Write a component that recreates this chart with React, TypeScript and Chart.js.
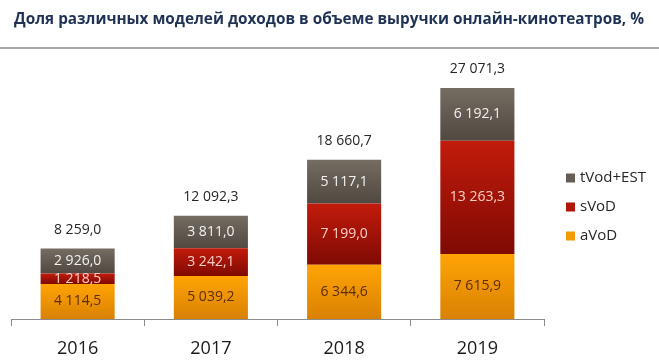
import React, { useEffect, useRef } from "react";
import { Chart, registerables } from "chart.js";

Chart.register(...registerables);

const TITLE = "Доля различных моделей доходов в объеме выручки онлайн-кинотеатров, %";
const YEARS = ["2016", "2017", "2018", "2019"];
const AVOD = [4114.5, 5039.2, 6344.6, 7615.9];
const SVOD = [1218.5, 3242.1, 7199.0, 13263.3];
const TVOD = [2926.0, 3811.0, 5117.1, 6192.1];
const TOTALS = [8259.0, 12092.3, 18660.7, 27071.3];
const SERIES_NAMES = ["aVoD", "sVoD", "tVod+EST"];

const FONT = "'Open Sans', sans-serif";

const GRADS = [
  ["#FFA404", "#D98104"],
  ["#C21B0B", "#7F0A04"],
  ["#756C62", "#504941"],
];
const LABEL_COLORS = ["#5C2E00", "#FFCFC8", "#F2F2F2"];
const LEGEND_COLORS = ["#F29A06", "#B01508", "#655D55"];

function fmt(v: number): string {
  const s = v.toFixed(1);
  const [i, d] = s.split(".");
  const withSp = i.replace(/\B(?=(\d{3})+(?!\d))/g, " ");
  return withSp + "," + d;
}

export default function App() {
  const ref = useRef<HTMLCanvasElement | null>(null);

  useEffect(() => {
    const canvas = ref.current;
    if (!canvas) return;
    const seriesData = [AVOD, SVOD, TVOD];

    const gradFor = (di: number) => (ctx: any) => {
      const chart = ctx.chart;
      const y = chart.scales && chart.scales.y;
      if (!y || !chart.chartArea || ctx.dataIndex === undefined) return GRADS[di][0];
      const idx = ctx.dataIndex;
      let start = 0;
      for (let k = 0; k < di; k++) start += seriesData[k][idx];
      const end = start + seriesData[di][idx];
      const yTop = y.getPixelForValue(end);
      const yBot = y.getPixelForValue(start);
      if (!isFinite(yTop) || !isFinite(yBot) || yTop === yBot) return GRADS[di][0];
      const g = chart.ctx.createLinearGradient(0, yTop, 0, yBot);
      g.addColorStop(0, GRADS[di][0]);
      g.addColorStop(1, GRADS[di][1]);
      return g;
    };

    const decor = {
      id: "decor",
      afterDraw(chart: any) {
        const c = chart.ctx;
        c.save();
        // title
        c.fillStyle = "#1F3255";
        c.font = `bold 15.3px ${FONT}`;
        c.textAlign = "center";
        c.textBaseline = "middle";
        c.fillText(TITLE, 329, 20);
        // rule
        c.strokeStyle = "#8A8A8A";
        c.lineWidth = 1.5;
        c.beginPath();
        c.moveTo(0, 48);
        c.lineTo(659, 48);
        c.stroke();

        // segment labels
        c.font = `14px ${FONT}`;
        for (let di = 0; di < 3; di++) {
          const meta = chart.getDatasetMeta(di);
          meta.data.forEach((bar: any, i: number) => {
            const cy = (bar.y + bar.base) / 2;
            c.fillStyle = LABEL_COLORS[di];
            c.fillText(fmt(seriesData[di][i]), bar.x, cy);
          });
        }
        // totals
        const top = chart.getDatasetMeta(2);
        c.fillStyle = "#262626";
        top.data.forEach((bar: any, i: number) => {
          c.fillText(fmt(TOTALS[i]), bar.x, bar.y - 19);
        });

        // legend
        c.font = `15px ${FONT}`;
        c.textAlign = "left";
        const order = [2, 1, 0];
        order.forEach((di, k) => {
          const ly = 178 + k * 29;
          c.fillStyle = LEGEND_COLORS[di];
          c.fillRect(566, ly - 4.5, 9, 9);
          c.fillStyle = "#262626";
          c.fillText(SERIES_NAMES[di], 580, ly);
        });
        c.restore();
      },
    };

    const chart = new Chart(canvas, {
      type: "bar",
      data: {
        labels: YEARS,
        datasets: [0, 1, 2].map((di) => ({
          label: SERIES_NAMES[di],
          data: seriesData[di],
          backgroundColor: gradFor(di),
          borderWidth: 0,
          categoryPercentage: 1,
          barPercentage: 0.556,
        })),
      },
      options: {
        animation: false,
        responsive: false,
        layout: { padding: { top: 63, left: 11, right: 115, bottom: 0 } },
        plugins: {
          legend: { display: false },
          title: { display: false },
          tooltip: { enabled: false },
        },
        scales: {
          x: {
            stacked: true,
            afterFit: (scale: any) => {
              scale.height = 41;
            },
            grid: {
              display: true,
              drawOnChartArea: false,
              drawTicks: true,
              tickLength: 7,
              offset: true,
              color: "#8C8C8C",
            },
            border: { display: true, color: "#8C8C8C", width: 1 },
            ticks: {
              color: "#1A1A1A",
              font: { family: FONT, size: 18, lineHeight: 1 },
              padding: 14,
              maxRotation: 0,
            },
          },
          y: {
            stacked: true,
            display: false,
            min: 0,
            max: 30000,
          },
        },
      },
      plugins: [decor],
    });
    return () => chart.destroy();
  }, []);

  return (
    <div style={{ position: "fixed", left: 0, top: 0, width: 659, height: 360, background: "#fff" }}>
      <canvas ref={ref} width={659} height={360} style={{ display: "block" }} />
    </div>
  );
}
